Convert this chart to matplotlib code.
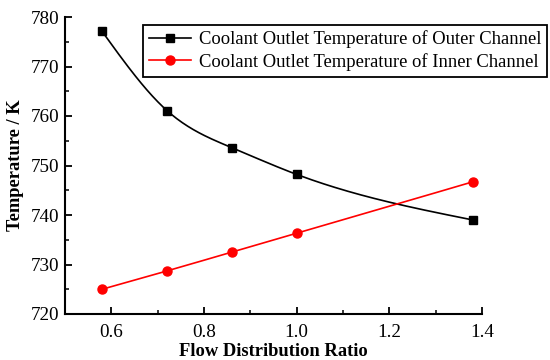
import numpy as np
import matplotlib
matplotlib.use("Agg")
import matplotlib.pyplot as plt
from matplotlib.ticker import MultipleLocator

plt.rcParams['font.family'] = ['Liberation Serif', 'DejaVu Serif']

ratio = [0.58, 0.72, 0.86, 1.00, 1.38]
outer_temp = [777.1, 761.1, 753.6, 748.2, 739.0]
inner_temp = [725.0, 728.7, 732.5, 736.3, 746.7]
label_outer = "Coolant Outlet Temperature of Outer Channel"
label_inner = "Coolant Outlet Temperature of Inner Channel"


def natural_spline(x, y, n=200):
    x = np.asarray(x, float); y = np.asarray(y, float)
    k = len(x); h = np.diff(x)
    A = np.zeros((k, k)); b = np.zeros(k)
    A[0, 0] = A[-1, -1] = 1
    for i in range(1, k - 1):
        A[i, i - 1] = h[i - 1]; A[i, i] = 2 * (h[i - 1] + h[i]); A[i, i + 1] = h[i]
        b[i] = 6 * ((y[i + 1] - y[i]) / h[i] - (y[i] - y[i - 1]) / h[i - 1])
    M = np.linalg.solve(A, b)
    xs = np.linspace(x[0], x[-1], n)
    idx = np.clip(np.searchsorted(x, xs) - 1, 0, k - 2)
    x0, x1 = x[idx], x[idx + 1]; hh = x1 - x0
    ys = (M[idx] * (x1 - xs) ** 3 / (6 * hh) + M[idx + 1] * (xs - x0) ** 3 / (6 * hh)
          + (y[idx] / hh - M[idx] * hh / 6) * (x1 - xs)
          + (y[idx + 1] / hh - M[idx + 1] * hh / 6) * (xs - x0))
    return xs, ys


fig = plt.figure(figsize=(5.5, 3.6), dpi=100)
ax = fig.add_axes([65/550, 1 - 314/360, (482 - 65)/550, (314 - 17)/360])

xs, ys = natural_spline(ratio, outer_temp)
ax.plot(xs, ys, color='black', lw=1.2)
ax.plot(ratio, outer_temp, ls='none', marker='s', ms=6, color='black')
xs2, ys2 = natural_spline(ratio, inner_temp)
ax.plot(xs2, ys2, color='red', lw=1.2)
ax.plot(ratio, inner_temp, ls='none', marker='o', ms=6.5, color='red')

h1, = ax.plot([], [], color='black', lw=1.2, marker='s', ms=6)
h2, = ax.plot([], [], color='red', lw=1.2, marker='o', ms=6.5)

ax.set_xlim(0.5, 1.4)
ax.set_ylim(720, 780)
ax.xaxis.set_minor_locator(MultipleLocator(0.1))
ax.yaxis.set_major_locator(MultipleLocator(10))
ax.yaxis.set_minor_locator(MultipleLocator(5))
ax.set_xticks([0.6, 0.8, 1.0, 1.2, 1.4])
ax.set_xticklabels(['0.6', '0.8', '1.0', '1.2', '1.4'])
ax.spines['top'].set_visible(False)
ax.spines['right'].set_visible(False)
for s in ['left', 'bottom']:
    ax.spines[s].set_linewidth(1.5)
ax.tick_params(which='major', direction='in', length=5, width=1.3, labelsize=13.8)
ax.tick_params(axis='x', which='major', pad=7)
ax.tick_params(axis='y', which='major', pad=4)
ax.tick_params(which='minor', direction='in', length=3, width=1.1)

ax.set_xlabel('Flow Distribution Ratio', fontsize=13.3, fontweight='bold', labelpad=2)
ax.set_ylabel('Temperature / K', fontsize=13.3, fontweight='bold', labelpad=5)

leg = fig.legend([h1, h2], [label_outer, label_inner], loc='upper left',
                 bbox_to_anchor=(143/550, 1 - 25/360), fontsize=13.4,
                 frameon=True, fancybox=False, edgecolor='black', framealpha=1,
                 handlelength=2.3, handletextpad=0.4, borderpad=0.3,
                 labelspacing=0.25, borderaxespad=0)
leg.get_frame().set_linewidth(1.3)

fig.savefig('out.png', dpi=100)
